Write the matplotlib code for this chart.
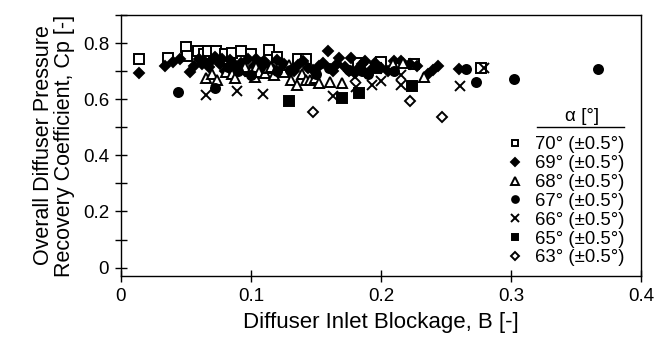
import matplotlib
matplotlib.use("Agg")
import matplotlib.pyplot as plt
from matplotlib.ticker import MultipleLocator

plt.rcParams['font.family'] = ['Liberation Sans', 'DejaVu Sans']

# ── Data (B = inlet blockage, Cp = pressure recovery) ──
labels = ['70° (±0.5°)', '69° (±0.5°)', '68° (±0.5°)', '67° (±0.5°)',
          '66° (±0.5°)', '65° (±0.5°)', '63° (±0.5°)']

b_70 = [0.014, 0.036, 0.050, 0.051, 0.059, 0.064, 0.067, 0.073, 0.080, 0.085,
        0.092, 0.100, 0.114, 0.120, 0.136, 0.142, 0.182, 0.200, 0.225, 0.277]
cp_70 = [0.742, 0.748, 0.787, 0.755, 0.770, 0.760, 0.773, 0.773, 0.760, 0.765,
         0.773, 0.760, 0.775, 0.750, 0.742, 0.742, 0.728, 0.731, 0.724, 0.712]

b_69 = [0.014, 0.034, 0.040, 0.045, 0.053, 0.056, 0.060, 0.064, 0.068, 0.072,
        0.076, 0.080, 0.084, 0.088, 0.092, 0.095, 0.098, 0.102, 0.106, 0.110,
        0.115, 0.120, 0.125, 0.133, 0.140, 0.148, 0.152, 0.159, 0.163, 0.168,
        0.172, 0.177, 0.180, 0.185, 0.188, 0.192, 0.197, 0.205, 0.210, 0.215,
        0.222, 0.228, 0.236, 0.240, 0.244, 0.260,
        0.062, 0.070, 0.078, 0.086, 0.094, 0.104, 0.108, 0.112, 0.118, 0.123,
        0.128, 0.136, 0.144, 0.155, 0.166, 0.175, 0.183, 0.195, 0.200]
cp_69 = [0.695, 0.718, 0.733, 0.745, 0.698, 0.720, 0.745, 0.735, 0.715, 0.750,
         0.725, 0.700, 0.740, 0.715, 0.730, 0.700, 0.745, 0.720, 0.705, 0.735,
         0.715, 0.740, 0.725, 0.700, 0.735, 0.705, 0.718, 0.772, 0.700, 0.748,
         0.715, 0.748, 0.695, 0.725, 0.736, 0.705, 0.720, 0.700, 0.735, 0.736,
         0.725, 0.718, 0.690, 0.705, 0.720, 0.706,
         0.725, 0.740, 0.745, 0.728, 0.712, 0.745, 0.728, 0.712, 0.700, 0.730,
         0.712, 0.722, 0.712, 0.728, 0.725, 0.700, 0.712, 0.730, 0.712]

b_68 = [0.065, 0.070, 0.074, 0.081, 0.085, 0.088, 0.095, 0.100, 0.103, 0.104,
        0.106, 0.111, 0.113, 0.115, 0.118, 0.121, 0.125, 0.129, 0.131, 0.135,
        0.139, 0.142, 0.145, 0.149, 0.152, 0.161, 0.170, 0.209, 0.217, 0.233]
cp_68 = [0.675, 0.690, 0.668, 0.698, 0.690, 0.675, 0.716, 0.700, 0.680, 0.716,
         0.698, 0.692, 0.710, 0.716, 0.686, 0.710, 0.698, 0.722, 0.669, 0.651,
         0.689, 0.669, 0.669, 0.674, 0.657, 0.662, 0.657, 0.724, 0.729, 0.680]

b_67 = [0.044, 0.072, 0.082, 0.090, 0.100, 0.110, 0.120, 0.130, 0.150, 0.160,
        0.175, 0.185, 0.190, 0.210, 0.265, 0.273, 0.302, 0.367]
cp_67 = [0.627, 0.640, 0.715, 0.700, 0.686, 0.728, 0.700, 0.705, 0.690, 0.712,
         0.705, 0.700, 0.690, 0.700, 0.706, 0.660, 0.671, 0.706]

b_66 = [0.065, 0.089, 0.109, 0.163, 0.180, 0.181, 0.193, 0.200, 0.215, 0.215,
        0.261, 0.279]
cp_66 = [0.615, 0.629, 0.618, 0.612, 0.680, 0.645, 0.650, 0.665, 0.686, 0.651,
         0.648, 0.712]

b_65 = [0.129, 0.170, 0.183, 0.196, 0.224]
cp_65 = [0.594, 0.606, 0.622, 0.710, 0.648]

b_63 = [0.148, 0.222, 0.247]
cp_63 = [0.556, 0.594, 0.538]

series = [
    (b_70, cp_70, dict(marker='s', mfc='white', mec='black', ms=6.5)),
    (b_69, cp_69, dict(marker='D', mfc='black', mec='black', ms=5.5)),
    (b_68, cp_68, dict(marker='^', mfc='white', mec='black', ms=7.5)),
    (b_67, cp_67, dict(marker='o', mfc='black', mec='black', ms=6.5)),
    (b_66, cp_66, dict(marker='x', mfc='none', mec='black', ms=7.5)),
    (b_65, cp_65, dict(marker='s', mfc='black', mec='black', ms=6.5)),
    (b_63, cp_63, dict(marker='D', mfc='white', mec='black', ms=5.5)),
]

# ── Plot ──────────────────────────────────────────────────────
fig = plt.figure(figsize=(6.7, 3.43), dpi=100)
ax = fig.add_axes([121/670, 1 - 276/343, 520/670, 261/343])

handles = []
for (b, cp, style), lab in zip(series, labels):
    h, = ax.plot(b, cp, ls='none', mew=1.4, label=lab, **style)
    handles.append(h)

ax.set_xlim(0, 0.4)
ax.set_ylim(-0.03, 0.9)
ax.set_xticks([0, 0.1, 0.2, 0.3, 0.4])
ax.set_xticklabels(['0', '0.1', '0.2', '0.3', '0.4'])
ax.set_yticks([0, 0.2, 0.4, 0.6, 0.8])
ax.set_yticklabels(['0', '0.2', '0.4', '0.6', '0.8'])
ax.yaxis.set_minor_locator(MultipleLocator(0.1))
ax.tick_params(which='both', direction='inout', length=9, width=1.0,
               labelsize=13.5, pad=4)
for s in ax.spines.values():
    s.set_linewidth(1.0)

ax.set_xlabel('Diffuser Inlet Blockage, B [-]', fontsize=16, labelpad=5)
ax.set_ylabel('Overall Diffuser Pressure\nRecovery Coefficient, Cp [-]',
              fontsize=15.5, linespacing=0.95, labelpad=6)

# legend heading with underline
ax.text(0.887, 0.578, 'α [°]', transform=ax.transAxes, ha='center',
        va='bottom', fontsize=13.5)
ax.plot([0.80, 0.967], [0.571, 0.571], transform=ax.transAxes,
        color='black', lw=1.0, clip_on=False)

ax.legend(handles=handles, loc='upper left', bbox_to_anchor=(0.74, 0.535),
          frameon=False, fontsize=13.3, markerscale=0.75, handlelength=1.0,
          handletextpad=0.6, labelspacing=0.1, borderpad=0, borderaxespad=0)

fig.savefig('out.png', dpi=100)
